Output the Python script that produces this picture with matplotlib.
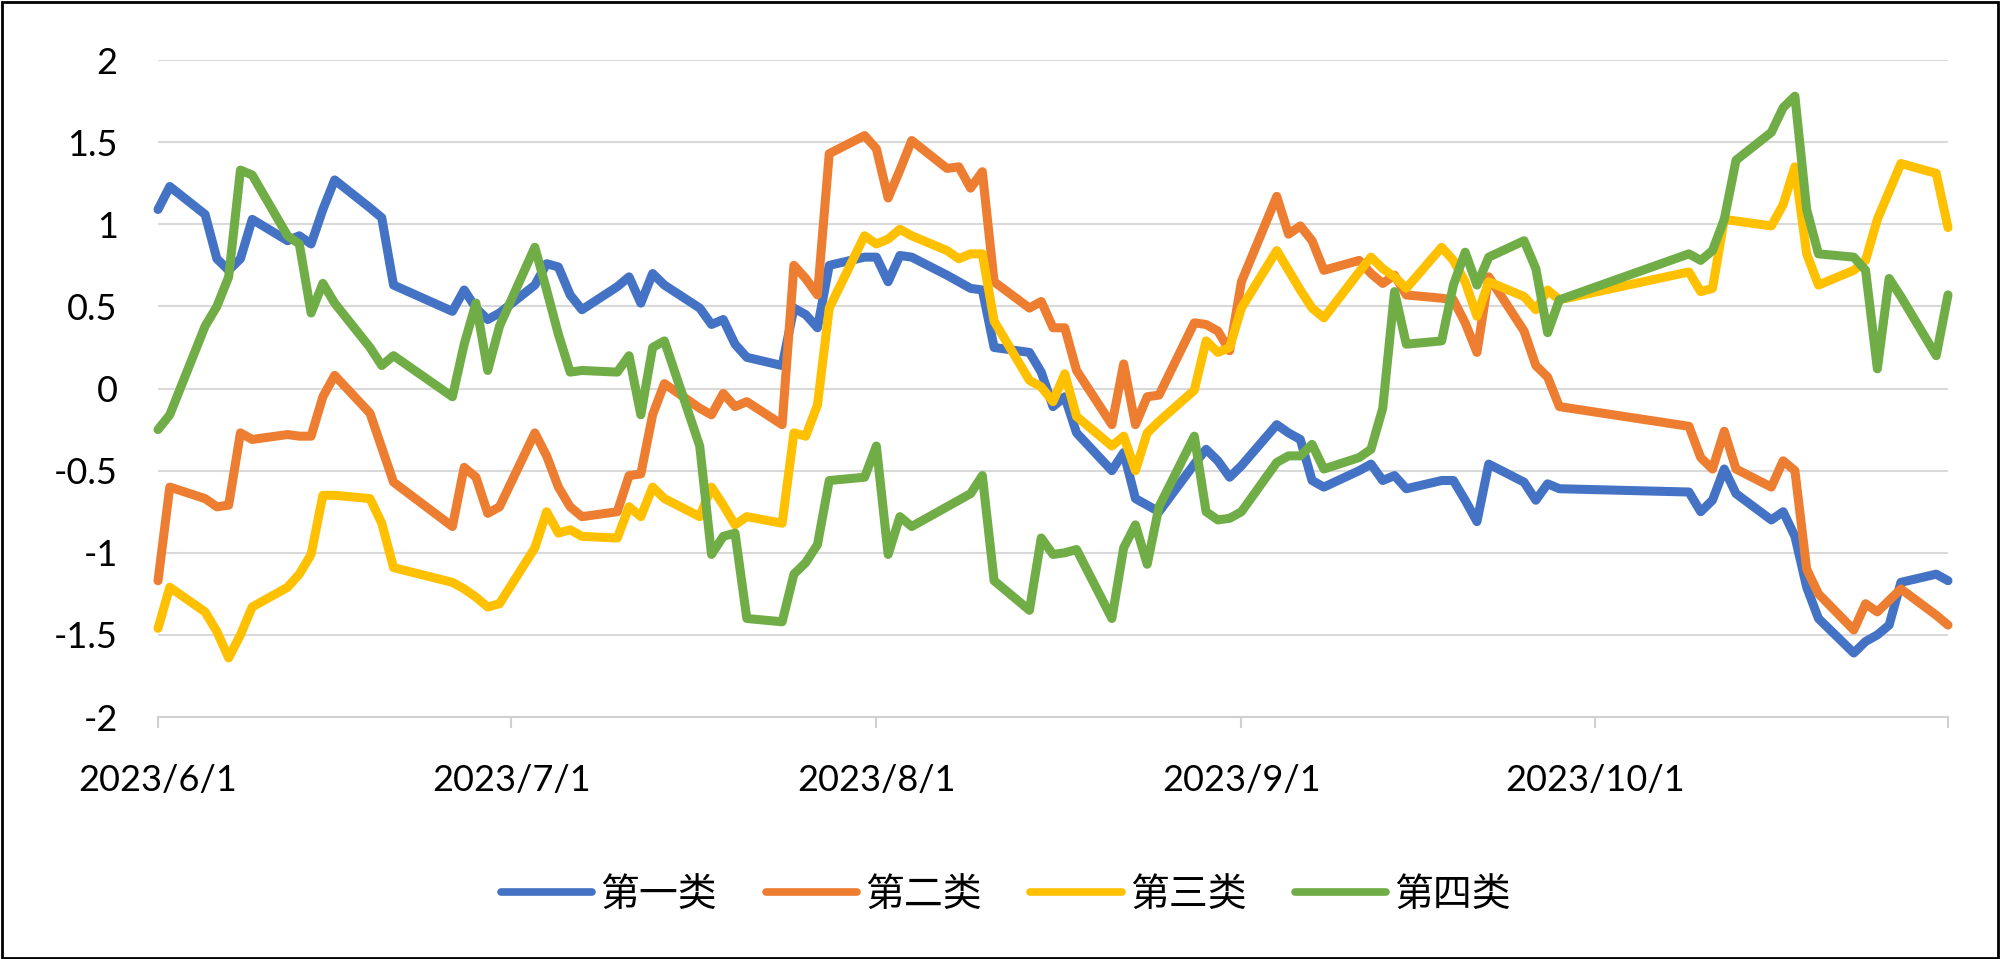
import datetime as dt
import numpy as np
import matplotlib
matplotlib.use("Agg")
import matplotlib.pyplot as plt
from matplotlib.patches import Rectangle

# trading days, per month
june_days = [1, 2, 5, 6, 7, 8, 9, 12, 13, 14, 15, 16, 19, 20, 21, 26, 27, 28, 29, 30]
july_days = [3, 4, 5, 6, 7, 10, 11, 12, 13, 14, 17, 18, 19, 20, 21, 24, 25, 26, 27, 28, 31]
aug_days = [1, 2, 3, 4, 7, 8, 9, 10, 11, 14, 15, 16, 17, 18, 21, 22, 23, 24, 25, 28, 29, 30, 31]
sep_days = [1, 4, 5, 6, 7, 8, 11, 12, 13, 14, 15, 18, 19, 20, 21, 22, 25, 26, 27, 28]
oct_days = [9, 10, 11, 12, 13, 16, 17, 18, 19, 20, 23, 24, 25, 26, 27, 30, 31]

series_names = ["第一类", "第二类", "第三类", "第四类"]

class1 = [1.09, 1.23, 1.06, 0.79, 0.72, 0.79, 1.03, 0.90, 0.93, 0.88, 1.09, 1.27, 1.10, 1.04, 0.63, 0.47, 0.60, 0.49, 0.42, 0.46,
          0.63, 0.76, 0.74, 0.57, 0.48, 0.62, 0.68, 0.52, 0.70, 0.63, 0.49, 0.39, 0.42, 0.27, 0.19, 0.14, 0.49, 0.45, 0.37, 0.75, 0.80,
          0.80, 0.65, 0.81, 0.80, 0.69, 0.65, 0.61, 0.60, 0.25, 0.22, 0.10, -0.11, -0.05, -0.27, -0.50, -0.39, -0.67, -0.71, -0.75, -0.46, -0.37, -0.44, -0.54,
          -0.47, -0.22, -0.27, -0.31, -0.56, -0.60, -0.50, -0.46, -0.56, -0.53, -0.61, -0.56, -0.56, -0.68, -0.81, -0.46, -0.57, -0.68, -0.58, -0.61,
          -0.63, -0.75, -0.68, -0.49, -0.64, -0.80, -0.75, -0.90, -1.21, -1.40, -1.61, -1.54, -1.50, -1.44, -1.18, -1.13, -1.17]

class2 = [-1.17, -0.60, -0.67, -0.72, -0.71, -0.27, -0.31, -0.28, -0.29, -0.29, -0.05, 0.08, -0.15, -0.36, -0.57, -0.84, -0.48, -0.54, -0.76, -0.72,
          -0.27, -0.41, -0.60, -0.72, -0.78, -0.75, -0.53, -0.52, -0.16, 0.03, -0.12, -0.16, -0.03, -0.11, -0.08, -0.22, 0.75, 0.67, 0.57, 1.43, 1.54,
          1.46, 1.16, 1.33, 1.51, 1.34, 1.35, 1.22, 1.32, 0.65, 0.49, 0.53, 0.37, 0.37, 0.11, -0.22, 0.15, -0.22, -0.05, -0.04, 0.40, 0.39, 0.35, 0.23,
          0.65, 1.17, 0.94, 0.99, 0.90, 0.72, 0.78, 0.70, 0.64, 0.69, 0.57, 0.55, 0.54, 0.40, 0.22, 0.68, 0.35, 0.14, 0.07, -0.11,
          -0.23, -0.42, -0.49, -0.26, -0.49, -0.60, -0.44, -0.50, -1.10, -1.25, -1.47, -1.31, -1.36, -1.29, -1.22, -1.38, -1.44]

class3 = [-1.46, -1.21, -1.36, -1.48, -1.64, -1.50, -1.33, -1.21, -1.13, -1.01, -0.65, -0.65, -0.67, -0.82, -1.09, -1.18, -1.22, -1.27, -1.33, -1.31,
          -0.97, -0.75, -0.88, -0.86, -0.90, -0.91, -0.72, -0.78, -0.60, -0.67, -0.78, -0.60, -0.71, -0.83, -0.78, -0.82, -0.27, -0.29, -0.10, 0.49, 0.93,
          0.88, 0.91, 0.97, 0.93, 0.84, 0.79, 0.82, 0.82, 0.41, 0.05, 0.01, -0.08, 0.09, -0.17, -0.35, -0.29, -0.50, -0.27, -0.20, -0.01, 0.29, 0.22, 0.25,
          0.49, 0.84, 0.72, 0.60, 0.49, 0.43, 0.71, 0.80, 0.73, 0.68, 0.61, 0.86, 0.78, 0.65, 0.44, 0.65, 0.56, 0.48, 0.60, 0.54,
          0.71, 0.59, 0.61, 1.03, 1.02, 0.99, 1.12, 1.35, 0.82, 0.63, 0.72, 0.78, 1.03, 1.20, 1.37, 1.31, 0.98]

class4 = [-0.25, -0.16, 0.38, 0.50, 0.68, 1.33, 1.30, 0.93, 0.88, 0.46, 0.64, 0.52, 0.25, 0.14, 0.20, -0.05, 0.27, 0.52, 0.11, 0.38,
          0.86, 0.60, 0.33, 0.10, 0.11, 0.10, 0.20, -0.16, 0.25, 0.29, -0.35, -1.01, -0.90, -0.88, -1.40, -1.42, -1.13, -1.06, -0.95, -0.56, -0.54,
          -0.35, -1.01, -0.78, -0.84, -0.72, -0.68, -0.64, -0.53, -1.17, -1.35, -0.91, -1.01, -1.00, -0.98, -1.40, -0.97, -0.83, -1.07, -0.72, -0.29, -0.75, -0.80, -0.79,
          -0.75, -0.45, -0.41, -0.41, -0.34, -0.49, -0.42, -0.37, -0.12, 0.59, 0.27, 0.29, 0.63, 0.83, 0.63, 0.80, 0.90, 0.73, 0.34, 0.54,
          0.82, 0.78, 0.84, 1.03, 1.39, 1.56, 1.71, 1.78, 1.09, 0.82, 0.80, 0.72, 0.12, 0.67, 0.56, 0.20, 0.57]

colors = ["#4472C4", "#ED7D31", "#FFC000", "#70AD47"]

dates = ([dt.date(2023, 6, d) for d in june_days] + [dt.date(2023, 7, d) for d in july_days]
         + [dt.date(2023, 8, d) for d in aug_days] + [dt.date(2023, 9, d) for d in sep_days]
         + [dt.date(2023, 10, d) for d in oct_days])

fig = plt.figure(figsize=(20, 9.59), dpi=100)
ax = fig.add_axes([0.079, 0.2523, 0.895, 0.6851])

for name, vals, c in zip(series_names, [class1, class2, class3, class4], colors):
    ax.plot(dates, vals, color=c, lw=6.5, label=name, clip_on=False,
            solid_joinstyle="round", solid_capstyle="round")

ax.set_xlim(dt.date(2023, 6, 1), dt.date(2023, 10, 31))
ax.set_ylim(-2, 2)
ax.set_yticks(np.arange(-2, 2.01, 0.5))
ax.set_yticklabels(["-2", "-1.5", "-1", "-0.5", "0", "0.5", "1", "1.5", "2"])

xt = [dt.date(2023, m, 1) for m in range(6, 11)] + [dt.date(2023, 10, 31)]
ax.set_xticks(xt)
ax.set_xticklabels([f"{d.year}/{d.month}/{d.day}" for d in xt[:-1]] + [""])

ax.grid(axis="y", color="#D9D9D9", lw=1.5)
ax.set_axisbelow(True)
for s in ["top", "right", "left"]:
    ax.spines[s].set_visible(False)
ax.spines["bottom"].set_color("#D0D0D0")
ax.spines["bottom"].set_linewidth(1.5)

ax.tick_params(axis="y", length=0, pad=29, labelsize=26)
ax.tick_params(axis="x", length=8, width=1.5, color="#D0D0D0", pad=26, labelsize=26)
for lab in ax.get_xticklabels() + ax.get_yticklabels():
    lab.set_fontfamily(["Lato", "DejaVu Sans"])

leg = fig.legend(loc="center", bbox_to_anchor=(0.503, 1 - 895 / 959), ncol=4, frameon=False,
                 prop={"family": ["Noto Sans CJK SC", "DejaVu Sans"], "size": 28},
                 handlelength=2.35, handletextpad=0.21, columnspacing=1.25)
for h in leg.get_lines():
    h.set_linewidth(5.5)

fig.patches.append(Rectangle((0.001, 0.001), 0.998, 0.997, transform=fig.transFigure,
                             fill=False, edgecolor="black", lw=2))

fig.savefig("out.png", dpi=100)
